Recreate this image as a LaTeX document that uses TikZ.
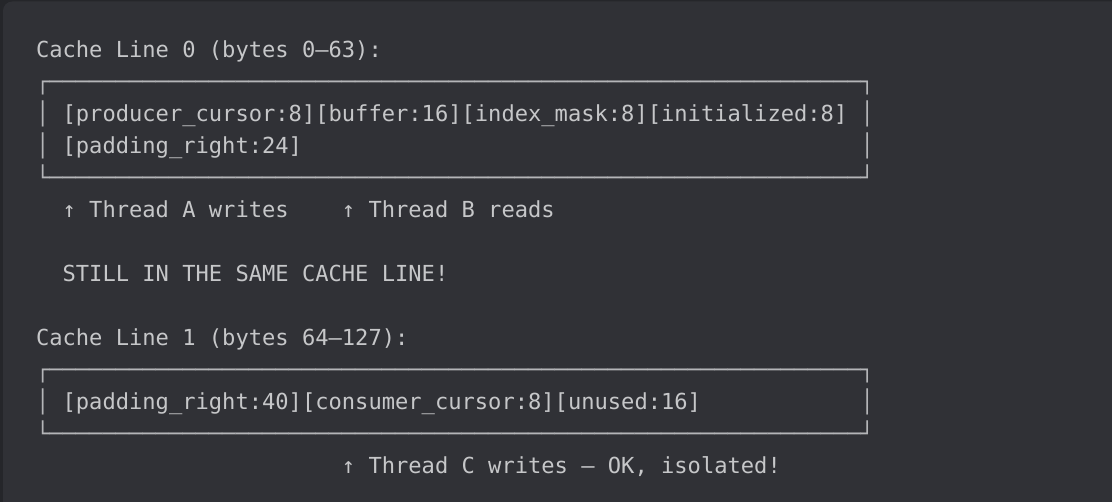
\documentclass[tikz,border=0pt]{standalone}
\usepackage{fontspec}
\newfontfamily\codefont{DejaVu Sans Mono}
\definecolor{pagebg}{HTML}{25262A}
\definecolor{codebg}{HTML}{303136}
\definecolor{codefg}{HTML}{C6C7C9}
\definecolor{rulefg}{HTML}{B4B5B8}
\ExplSyntaxOn
\NewDocumentCommand\repchar{mm}{\prg_replicate:nn{#1}{#2}}
\ExplSyntaxOff
\tikzset{
  code/.style={anchor=base west, inner sep=0pt, outer sep=0pt, text=codefg,
    font=\codefont\fontsize{16.57pt}{20pt}\selectfont},
  boxline/.style={code, text=rulefg}
}
\def\xo{36}
\def\cw{13.3}
\begin{document}
\begin{tikzpicture}[x=0.75pt,y=-0.75pt]
\useasboundingbox (0,0) rectangle (1112,502);
\fill[pagebg] (0,0) rectangle (1112,502);
\fill[codebg, rounded corners=7] (3,1.5) rectangle (1130,520);
% Cache line 0
\node[code] (cl0) at (\xo, 57.5) {Cache Line 0 (bytes 0–63):};
\node[boxline] (top0) at (\xo, 89.5) {┌\repchar{61}{─}┐};
\node[boxline] (l0a) at (\xo, 121.5) {│};
\node[code] (f0a) at (\xo+2*\cw, 121.5) {[producer\_cursor:8][buffer:16][index\_mask:8][initialized:8]};
\node[boxline] (r0a) at (\xo+62*\cw, 121.5) {│};
\node[boxline] (l0b) at (\xo, 153.5) {│};
\node[code] (f0b) at (\xo+2*\cw, 153.5) {[padding\_right:24]};
\node[boxline] (r0b) at (\xo+62*\cw, 153.5) {│};
\node[boxline] (bot0) at (\xo, 185.5) {└\repchar{61}{─}┘};
\node[code] (ta) at (\xo+2*\cw, 217.5) {↑ Thread A writes};
\node[code] (tb) at (\xo+23*\cw, 217.5) {↑ Thread B reads};
\node[code] (still) at (\xo+2*\cw, 281.5) {STILL IN THE SAME CACHE LINE!};
% Cache line 1
\node[code] (cl1) at (\xo, 345.5) {Cache Line 1 (bytes 64–127):};
\node[boxline] (top1) at (\xo, 377.5) {┌\repchar{61}{─}┐};
\node[boxline] (l1a) at (\xo, 409.5) {│};
\node[code] (f1a) at (\xo+2*\cw, 409.5) {[padding\_right:40][consumer\_cursor:8][unused:16]};
\node[boxline] (r1a) at (\xo+62*\cw, 409.5) {│};
\node[boxline] (bot1) at (\xo, 441.5) {└\repchar{61}{─}┘};
\node[code] (tc) at (\xo+23*\cw, 473.5) {↑ Thread C writes – OK, isolated!};
\end{tikzpicture}
\end{document}
